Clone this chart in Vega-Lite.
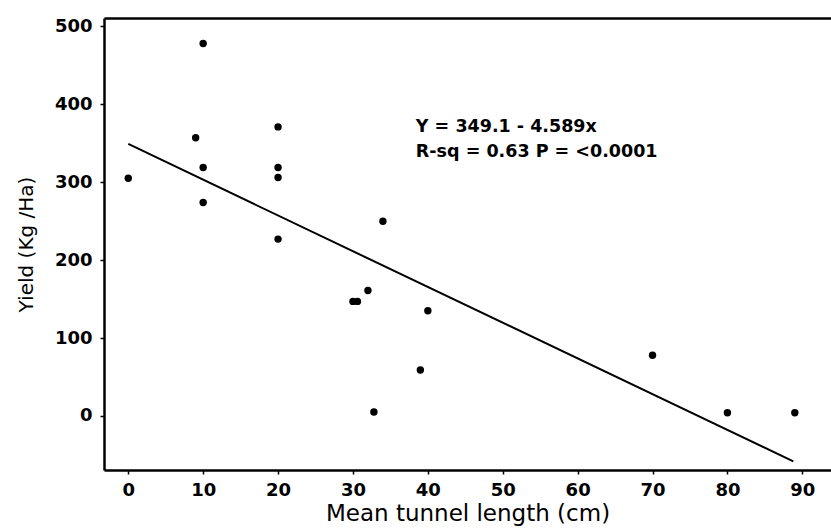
{
  "$schema": "https://vega.github.io/schema/vega-lite/v6.json",
  "width": 727,
  "height": 452,
  "autosize": {"type": "none"},
  "padding": {"left": 104, "top": 18, "right": 0, "bottom": 60},
  "background": "white",
  "config": {
    "view": {"stroke": null},
    "font": "DejaVu Sans"
  },
  "datasets": {
    "points": [
      {"tunnel": 0, "yield": 305},
      {"tunnel": 10, "yield": 478},
      {"tunnel": 9, "yield": 357},
      {"tunnel": 10, "yield": 319},
      {"tunnel": 10, "yield": 274},
      {"tunnel": 20, "yield": 371},
      {"tunnel": 20, "yield": 319},
      {"tunnel": 20, "yield": 306},
      {"tunnel": 20, "yield": 227},
      {"tunnel": 34, "yield": 250},
      {"tunnel": 32, "yield": 161},
      {"tunnel": 30, "yield": 147},
      {"tunnel": 30.6, "yield": 147},
      {"tunnel": 40, "yield": 135},
      {"tunnel": 39, "yield": 59},
      {"tunnel": 32.8, "yield": 5},
      {"tunnel": 70, "yield": 78},
      {"tunnel": 80, "yield": 4},
      {"tunnel": 89, "yield": 4}
    ],
    "fit": [
      {"tunnel": 0, "yield": 349.1},
      {"tunnel": 88.8, "yield": -58.4}
    ],
    "notes": [
      {"tunnel": 38.4, "yield": 365, "label": "Y = 349.1 - 4.589x"},
      {"tunnel": 38.4, "yield": 333, "label": "R-sq = 0.63 P = <0.0001"}
    ]
  },
  "resolve": {"axis": {"x": "independent"}},
  "layer": [
    {
      "data": {"name": "points"},
      "mark": {"type": "circle", "size": 55, "color": "black", "opacity": 1},
      "encoding": {
        "x": {
          "field": "tunnel", "type": "quantitative",
          "scale": {"domain": [-3.24, 93.83], "nice": false, "zero": false},
          "axis": {
            "orient": "bottom",
            "title": "Mean tunnel length (cm)",
            "values": [0, 10, 20, 30, 40, 50, 60, 70, 80, 90],
            "grid": false,
            "domainColor": "black", "domainWidth": 2.5,
            "tickColor": "black", "tickWidth": 1.5, "tickSize": 4,
            "labelColor": "black", "labelFontSize": 18, "labelFontWeight": "bold",
            "labelPadding": 7, "labelFlush": false,
            "titleColor": "black", "titleFontSize": 23, "titleFontWeight": "normal",
            "titlePadding": 3
          }
        },
        "y": {
          "field": "yield", "type": "quantitative",
          "scale": {"domain": [-69.4, 510.8], "nice": false, "zero": false},
          "axis": {
            "title": "Yield (Kg /Ha)",
            "values": [0, 100, 200, 300, 400, 500],
            "grid": false,
            "domainColor": "black", "domainWidth": 2.5,
            "tickColor": "black", "tickWidth": 1.5, "tickSize": 4,
            "labelColor": "black", "labelFontSize": 18, "labelFontWeight": "bold",
            "labelPadding": 8, "labelFlush": false,
            "titleColor": "black", "titleFontSize": 20, "titleFontWeight": "normal",
            "titlePadding": 18
          }
        }
      }
    },
    {
      "data": {"name": "fit"},
      "mark": {"type": "line", "color": "black", "strokeWidth": 2},
      "encoding": {
        "x": {
          "field": "tunnel", "type": "quantitative",
          "axis": {"orient": "top", "labels": false, "ticks": false, "title": null, "grid": false, "domainColor": "black", "domainWidth": 2.5}
        },
        "y": {"field": "yield", "type": "quantitative"}
      }
    },
    {
      "data": {"name": "notes"},
      "mark": {"type": "text", "align": "left", "baseline": "alphabetic", "fontSize": 17.5, "fontWeight": "bold", "color": "black"},
      "encoding": {
        "x": {"field": "tunnel", "type": "quantitative", "axis": null},
        "y": {"field": "yield", "type": "quantitative"},
        "text": {"field": "label"}
      }
    }
  ]
}
